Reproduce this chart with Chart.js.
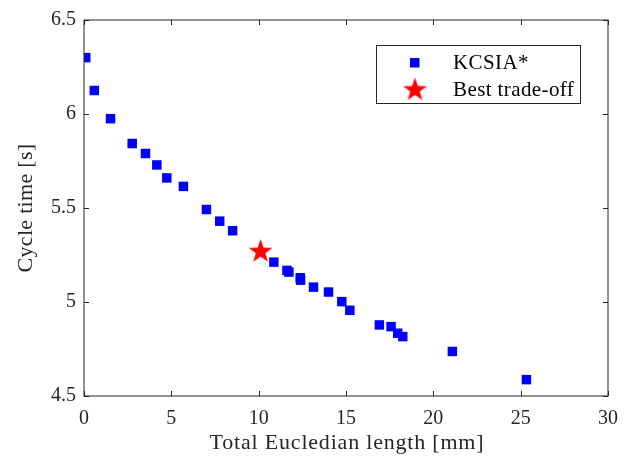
<!DOCTYPE html>
<html>
<head>
<meta charset="utf-8">
<script src="https://cdn.jsdelivr.net/npm/chart.js@4.4.1/dist/chart.umd.min.js"></script>
<style>
  html, body { margin: 0; padding: 0; background: #fff; }
  #wrap { width: 636px; height: 457px; }
</style>
</head>
<body>
<div id="wrap"><canvas id="chart"></canvas></div>
<script>
// ===============================
// Data
// ===============================
const lengthMm = [0.1, 0.59, 1.52, 2.76, 3.52, 4.17, 4.74, 5.69, 7.01, 7.77, 8.51,
  10.87, 11.62, 11.73, 12.38, 12.4, 13.14, 14.0, 14.76, 15.22,
  16.91, 17.58, 17.96, 18.25, 21.09, 25.33];
const cycleTime = [6.30, 6.125, 5.975, 5.843, 5.79, 5.729, 5.66, 5.615, 5.492, 5.43, 5.379,
  5.212, 5.168, 5.159, 5.129, 5.116, 5.079, 5.053, 5.002, 4.956,
  4.878, 4.869, 4.834, 4.816, 4.737, 4.587];
const bestLength = [10.11];
const bestTime = [5.273];
const xTicks = [0, 5, 10, 15, 20, 25, 30];
const yTicks = [4.5, 5, 5.5, 6, 6.5];

const FONT = "'Liberation Serif', 'Times New Roman', serif";
const AXIS = '#262626';

// filled red star used as point style
function makeStar(size) {
  const c = document.createElement('canvas');
  c.width = size; c.height = size;
  const g = c.getContext('2d');
  const cx = size / 2, cy = size / 2 + size * 0.04;
  const outer = size / 2, inner = outer * 0.4;
  g.beginPath();
  for (let i = 0; i < 10; i++) {
    const r = i % 2 === 0 ? outer : inner;
    const a = -Math.PI / 2 + i * Math.PI / 5;
    g.lineTo(cx + r * Math.cos(a), cy + r * Math.sin(a));
  }
  g.closePath();
  g.fillStyle = '#FF0000';
  g.fill();
  return c;
}
const star = makeStar(25);

// box, inward ticks, legend and axis titles
const framePlugin = {
  id: 'frame',
  afterDraw(chart) {
    const { ctx, chartArea: a, scales } = chart;
    const tl = 5;
    ctx.save();
    ctx.strokeStyle = AXIS;
    ctx.lineWidth = 1;
    ctx.strokeRect(a.left, a.top, a.right - a.left, a.bottom - a.top);
    ctx.beginPath();
    xTicks.forEach(v => {
      const x = Math.round(scales.x.getPixelForValue(v)) + 0.5;
      ctx.moveTo(x, a.bottom); ctx.lineTo(x, a.bottom - tl);
      ctx.moveTo(x, a.top); ctx.lineTo(x, a.top + tl);
    });
    yTicks.forEach(v => {
      const y = Math.round(scales.y.getPixelForValue(v)) + 0.5;
      ctx.moveTo(a.left, y); ctx.lineTo(a.left + tl, y);
      ctx.moveTo(a.right, y); ctx.lineTo(a.right - tl, y);
    });
    ctx.stroke();

    // legend
    ctx.fillStyle = '#fff';
    ctx.fillRect(376.5, 45.5, 204, 58);
    ctx.strokeStyle = AXIS;
    ctx.strokeRect(376.5, 45.5, 204, 58);
    ctx.fillStyle = '#0000FF';
    ctx.fillRect(410, 58, 9.5, 9.5);
    ctx.drawImage(star, 415 - 12.5, 89 - 12.5);
    ctx.fillStyle = '#000';
    ctx.font = '21px ' + FONT;
    ctx.letterSpacing = '0.4px';
    ctx.textBaseline = 'alphabetic';
    ctx.fillText('KCSIA*', 453, 69);
    ctx.fillText('Best trade-off', 453, 96);

    // axis titles
    ctx.fillStyle = AXIS;
    ctx.font = '22px ' + FONT;
    ctx.textAlign = 'center';
    ctx.letterSpacing = '0.8px';
    ctx.fillText('Total Eucledian length [mm]', (a.left + a.right) / 2 + 1, 449);
    ctx.letterSpacing = '0.3px';
    ctx.translate(32, (a.top + a.bottom) / 2);
    ctx.rotate(-Math.PI / 2);
    ctx.fillText('Cycle time [s]', 0, 0);
    ctx.restore();
  }
};

const ctx = document.getElementById('chart').getContext('2d');
new Chart(ctx, {
  type: 'scatter',
  data: {
    datasets: [{
      label: 'KCSIA*',
      data: lengthMm.map((x, i) => ({ x, y: cycleTime[i] })),
      pointStyle: 'rect',
      pointRadius: 6.7,
      pointHoverRadius: 6.7,
      backgroundColor: '#0000FF',
      borderColor: '#0000FF',
      borderWidth: 0
    }, {
      label: 'Best trade-off',
      data: bestLength.map((x, i) => ({ x, y: bestTime[i] })),
      pointStyle: star,
      pointRadius: 12,
      backgroundColor: '#FF0000',
      borderWidth: 0
    }]
  },
  options: {
    responsive: true,
    maintainAspectRatio: false,
    animation: false,
    events: [],
    layout: { padding: { top: 17, right: 28, left: 0, bottom: 0 } },
    plugins: {
      legend: { display: false },
      tooltip: { enabled: false }
    },
    scales: {
      x: {
        type: 'linear',
        min: 0, max: 30,
        afterFit: s => { s.height = 61; },
        afterBuildTicks: s => { s.ticks = xTicks.map(v => ({ value: v })); },
        grid: { display: false, drawTicks: false },
        border: { display: false },
        ticks: {
          color: AXIS, padding: 11,
          font: { family: FONT, size: 20 },
          maxRotation: 0
        }
      },
      y: {
        type: 'linear',
        min: 4.5, max: 6.5,
        afterFit: s => { s.width = 84; },
        afterBuildTicks: s => { s.ticks = yTicks.map(v => ({ value: v })); },
        grid: { display: false, drawTicks: false },
        border: { display: false },
        ticks: {
          color: AXIS, padding: 8,
          font: { family: FONT, size: 20 },
          callback: v => String(v)
        }
      }
    }
  },
  plugins: [framePlugin]
});
</script>
</body>
</html>
